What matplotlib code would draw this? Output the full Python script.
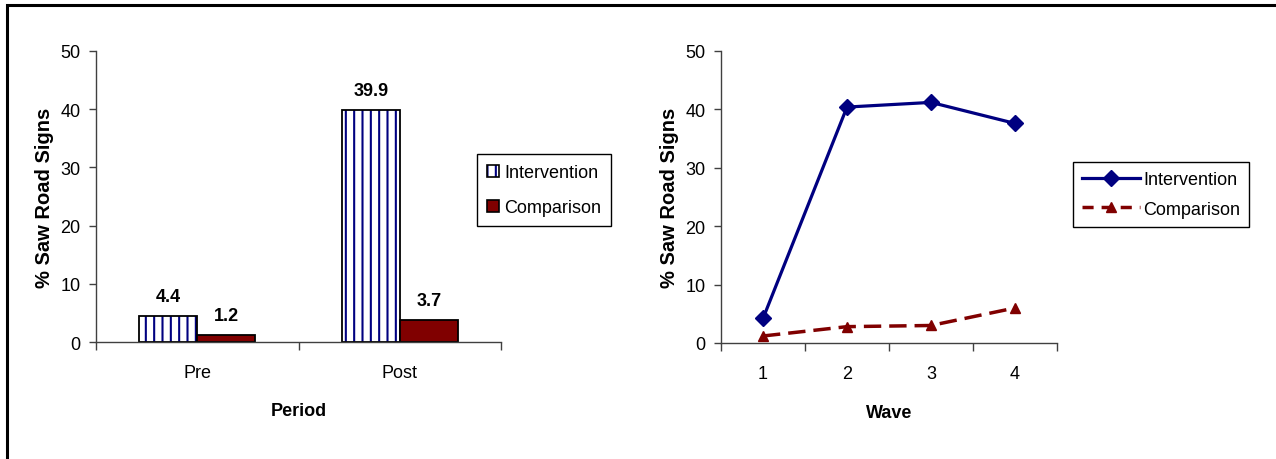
import matplotlib
matplotlib.use('Agg')
import matplotlib.pyplot as plt
import numpy as np
from matplotlib.patches import Rectangle, Patch
from matplotlib.lines import Line2D
from matplotlib.legend_handler import HandlerTuple

# Data
periods = ['Pre', 'Post']
bar_intervention = [4.4, 39.9]
bar_comparison = [1.2, 3.7]

waves = [1, 2, 3, 4]
line_intervention = [4.2, 40.4, 41.2, 37.6]
line_comparison = [1.2, 2.8, 3.0, 6.0]

y_ticks = [0, 10, 20, 30, 40, 50]

NAVY = '#000080'
MAROON = '#800000'
AXIS_GREY = '#404040'
FS = 13

plt.rcParams['font.family'] = ['Liberation Sans', 'DejaVu Sans']
plt.rcParams['hatch.linewidth'] = 1.5

W, H = 1276, 460
fig = plt.figure(figsize=(W / 100, H / 100), dpi=100)


def px_axes(x0, y0, x1, y1):
    """Axes placed by pixel box (top-left origin)."""
    return fig.add_axes([x0 / W, 1 - y1 / H, (x1 - x0) / W, (y1 - y0) / H])


def style_axes(ax, centers, labels, xlabel, ylab_x, xlab_y):
    for s in ['top', 'right']:
        ax.spines[s].set_visible(False)
    for s in ['left', 'bottom']:
        ax.spines[s].set_color(AXIS_GREY)
        ax.spines[s].set_linewidth(1)
    ax.set_ylim(0, 50)
    ax.set_yticks(y_ticks)
    ax.tick_params(axis='y', direction='out', length=5, width=1,
                   color=AXIS_GREY, labelsize=FS, pad=6)
    c = np.asarray(centers, dtype=float)
    ax.set_xlim(c[0] - 0.5, c[-1] + 0.5)
    # major ticks sit on category boundaries, labels on minor ticks
    ax.set_xticks(np.append(c - 0.5, c[-1] + 0.5))
    ax.set_xticklabels([])
    ax.tick_params(axis='x', which='major', direction='out', length=6,
                   width=1, color=AXIS_GREY)
    ax.set_xticks(c, minor=True)
    ax.set_xticklabels(labels, minor=True)
    ax.tick_params(axis='x', which='minor', length=0, labelsize=FS, pad=16)
    ax.set_xlabel(xlabel, fontsize=FS, fontweight='bold')
    ax.xaxis.set_label_coords(0.5, xlab_y)
    ax.xaxis.label.set_va('center')
    ax.set_ylabel('% Saw Road Signs', fontsize=14.5, fontweight='bold')
    ax.yaxis.set_label_coords(ylab_x, 0.5)
    ax.yaxis.label.set_va('center')


# ---- Left panel: bars by period ----
ax1 = px_axes(96, 52, 501, 343)
x = np.arange(len(periods))
bw = 0.286
ax1.bar(x - bw / 2, bar_intervention, bw, facecolor='white', edgecolor=NAVY,
        hatch='||', linewidth=0)
ax1.bar(x - bw / 2, bar_intervention, bw, fill=False, edgecolor='black',
        linewidth=1.3)
ax1.bar(x + bw / 2, bar_comparison, bw, color=MAROON, edgecolor='black',
        linewidth=1.3)
for xi, v in zip(x - bw / 2, bar_intervention):
    ax1.annotate(f'{v}', (xi, v), xytext=(0, 8), textcoords='offset points',
                 ha='center', va='bottom', fontsize=FS, fontweight='bold')
for xi, v in zip(x + bw / 2, bar_comparison):
    ax1.annotate(f'{v}', (xi, v), xytext=(0, 8), textcoords='offset points',
                 ha='center', va='bottom', fontsize=FS, fontweight='bold')
style_axes(ax1, x, periods, 'Period', -0.126, -0.237)

h_int = (Patch(facecolor='white', edgecolor=NAVY, hatch='||', linewidth=0),
         Patch(fill=False, edgecolor='black', linewidth=1.2))
h_cmp = Patch(facecolor=MAROON, edgecolor='black', linewidth=1.2)
leg1 = fig.legend([h_int, h_cmp], ['Intervention', 'Comparison'],
                  handler_map={tuple: HandlerTuple(ndivide=1, pad=0)},
                  loc='upper left', bbox_to_anchor=(477 / W, 1 - 155 / H),
                  borderaxespad=0, fontsize=FS, handlelength=0.65,
                  handleheight=0.65, handletextpad=0.3, labelspacing=1.0,
                  borderpad=0.55, fancybox=False, framealpha=1,
                  edgecolor='black')
leg1.get_frame().set_linewidth(1)

# ---- Right panel: lines by wave ----
ax2 = px_axes(721, 52, 1057, 344)
ax2.plot(waves, line_intervention, color=NAVY, linewidth=2.3, marker='D',
         markersize=8.5, clip_on=False)
ax2.plot(waves, line_comparison, color=MAROON, linewidth=2.5, marker='^',
         markersize=7.5, dashes=(5, 2.3), clip_on=False)
style_axes(ax2, waves, [str(w) for w in waves], 'Wave', -0.152, -0.237)

h_li = Line2D([], [], color=NAVY, linewidth=2.3, marker='D', markersize=8.5)
h_lc = Line2D([], [], color=MAROON, linewidth=2.5, marker='^', markersize=7.5,
              dashes=(3.2, 2.3))
leg2 = fig.legend([h_li, h_lc], ['Intervention', 'Comparison'],
                  loc='upper left', bbox_to_anchor=(1073 / W, 1 - 163 / H),
                  borderaxespad=0, fontsize=FS, handlelength=3.2,
                  handletextpad=0.2, labelspacing=0.7, borderpad=0.5,
                  fancybox=False, framealpha=1, edgecolor='black')
leg2.get_frame().set_linewidth(1)

# Outer frame (only top and left edges fall inside the image)
fig.add_artist(Rectangle((6.5 / W, -0.5), 2, 1.5 - 5.5 / H,
                         transform=fig.transFigure, fill=False,
                         edgecolor='black', linewidth=2.2))

fig.savefig('out.png', dpi=100)
